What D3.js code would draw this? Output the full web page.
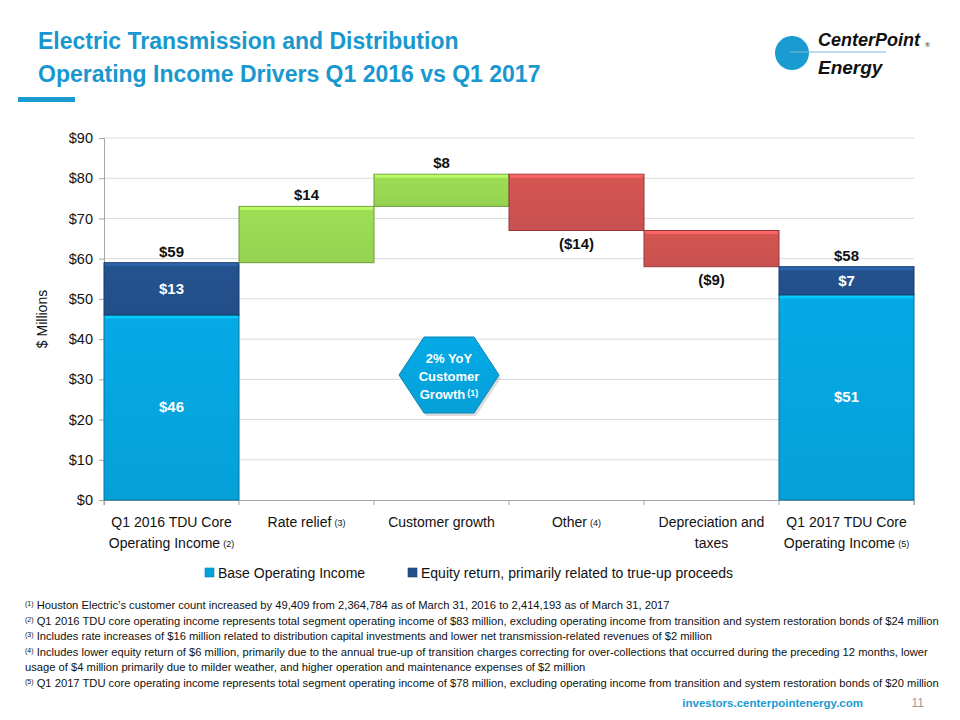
<!DOCTYPE html>
<html><head><meta charset="utf-8">
<script src="https://cdn.jsdelivr.net/npm/d3@7"></script>
<style>
body{margin:0;background:#fff;}
svg{display:block;}
text{font-family:"Liberation Sans Narrow","Open Sans",sans-serif;}
</style></head>
<body>
<script>
// ---- data ----
const categories = ["Q1 2016 TDU Core|Operating Income", "Rate relief", "Customer growth", "Other", "Depreciation and|taxes", "Q1 2017 TDU Core|Operating Income"];
const categoryNotes = ["(2)", "(3)", "", "(4)", "", "(5)"];
const baseValues = [46, null, null, null, null, 51];
const equityValues = [13, null, null, null, null, 7];
const deltaValues = [null, 14, 8, -14, -9, null];
const yTicks = [0, 10, 20, 30, 40, 50, 60, 70, 80, 90];
const legendLabels = ["Base Operating Income", "Equity return, primarily related to true-up proceeds"];
const footnotes = [
  ["(1)", " Houston Electric’s customer count increased by 49,409 from 2,364,784 as of March 31, 2016 to 2,414,193 as of March 31, 2017"],
  ["(2)", " Q1 2016 TDU core operating income represents total segment operating income of $83 million, excluding operating income from transition and system restoration bonds of $24 million"],
  ["(3)", " Includes rate increases of $16 million related to distribution capital investments and lower net transmission-related revenues of $2 million"],
  ["(4)", " Includes lower equity return of $6 million, primarily due to the annual true-up of transition charges correcting for over-collections that occurred during the preceding 12 months, lower"],
  ["", "usage of $4 million primarily due to milder weather, and higher operation and maintenance expenses of $2 million"],
  ["(5)", " Q1 2017 TDU core operating income represents total segment operating income of $78 million, excluding operating income from transition and system restoration bonds of $20 million"]
];

const W = 960, H = 720;
const svg = d3.select("body").append("svg").attr("width", W).attr("height", H);
const C = {base:"#05a3dc", equity:"#23508a", up:"#97d651", down:"#cc5250", title:"#1998cf", grid:"#d9d9d9"};

const defs = svg.append("defs");
function vgrad(id, c) {
  const g = defs.append("linearGradient").attr("id", id).attr("x1",0).attr("x2",0).attr("y1",0).attr("y2",1);
  g.append("stop").attr("offset","0%").attr("stop-color", d3.color(c).brighter(0.12));
  g.append("stop").attr("offset","100%").attr("stop-color", d3.color(c).darker(0.05));
}
vgrad("gBase", C.base); vgrad("gEq", C.equity); vgrad("gUp", C.up); vgrad("gDown", C.down);
const fill = {base:"url(#gBase)", equity:"url(#gEq)", up:"url(#gUp)", down:"url(#gDown)"};

const FN = "'Liberation Sans Narrow',sans-serif";

// ---- title ----
svg.append("text").attr("x", 38).attr("y", 49).attr("fill", C.title).attr("font-size", 23).attr("font-weight","bold")
  .style("font-family",FN).text("Electric Transmission and Distribution");
svg.append("text").attr("x", 38).attr("y", 82).attr("fill", C.title).attr("font-size", 23).attr("font-weight","bold")
  .style("font-family",FN).text("Operating Income Drivers Q1 2016 vs Q1 2017");
svg.append("rect").attr("x", 18).attr("y", 97).attr("width", 57).attr("height", 5).attr("fill", "#1a9bd1");

// logo
svg.append("circle").attr("cx", 792).attr("cy", 53).attr("r", 17).attr("fill", "#1a9bd1");
svg.append("line").attr("x1", 790).attr("x2", 886).attr("y1", 52).attr("y2", 52).attr("stroke", "#7fb8d8").attr("stroke-width", 1.2);
svg.append("text").attr("x", 818).attr("y", 46).attr("font-size", 18).attr("font-weight","bold").attr("font-style","italic")
  .attr("fill","#111").style("font-family",FN).text("CenterPoint");
svg.append("text").attr("x", 925).attr("y", 47).attr("font-size", 6).attr("fill","#111").text("®");
svg.append("text").attr("x", 818).attr("y", 74).attr("font-size", 19).attr("font-weight","bold").attr("font-style","italic")
  .attr("fill","#111").style("font-family",FN).text("Energy");

// ---- chart ----
const x = d3.scaleBand().domain(d3.range(categories.length)).range([104, 914]).padding(0);
const y = d3.scaleLinear().domain([0, 90]).range([500, 138]);

const g = svg.append("g");
g.selectAll(".grid").data(yTicks.slice(1)).join("line")
  .attr("x1", 104).attr("x2", 914).attr("y1", d => y(d)).attr("y2", d => y(d))
  .attr("stroke", C.grid).attr("stroke-width", 1);

const yAxis = g.append("g").attr("transform", "translate(104,0)")
  .call(d3.axisLeft(y).tickValues(yTicks).tickFormat(d => "$" + d).tickSize(5).tickPadding(6));
yAxis.select(".domain").attr("stroke", "#a6a6a6");
yAxis.selectAll(".tick line").attr("stroke", "#a6a6a6");
yAxis.selectAll("text").attr("font-size", 14.5).attr("fill", "#111").style("font-family",FN);

const xAxis = g.append("g").attr("transform", "translate(0,500)")
  .call(d3.axisBottom(x).tickSize(5).tickFormat(""));
xAxis.select(".domain").attr("stroke", "#a6a6a6");
xAxis.selectAll(".tick line").attr("stroke", "#a6a6a6").attr("transform", `translate(${-x.bandwidth()/2},0)`);
xAxis.append("line").attr("x1", 914).attr("x2", 914).attr("y1", 0).attr("y2", 5).attr("stroke", "#a6a6a6");

svg.append("text").attr("transform", "translate(47,319) rotate(-90)").attr("text-anchor","middle")
  .attr("font-size", 14).attr("fill","#111").style("font-family",FN).text("$ Millions");

// waterfall segments
const segs = [];
let running = 0;
categories.forEach((c, i) => {
  if (baseValues[i] != null) {
    segs.push({i, y0: 0, y1: baseValues[i], type: "base", label: "$" + baseValues[i]});
    segs.push({i, y0: baseValues[i], y1: baseValues[i] + equityValues[i], type: "equity", label: "$" + equityValues[i]});
    running = baseValues[i] + equityValues[i];
  } else {
    const d = deltaValues[i];
    segs.push({i, y0: running, y1: running + d, type: d >= 0 ? "up" : "down", delta: d});
    running += d;
  }
});

function bevel(sel) {
  sel.each(function(d) {
    const x0 = x(d.i), w = x.bandwidth();
    const top = y(Math.max(d.y0, d.y1)), bot = y(Math.min(d.y0, d.y1));
    const gg = d3.select(this);
    const col = d3.color(C[d.type]);
    gg.append("rect").attr("x", x0).attr("y", top).attr("width", w).attr("height", bot - top)
      .attr("fill", fill[d.type]).attr("stroke", col.darker(0.9)).attr("stroke-width", 1);
    gg.append("rect").attr("x", x0 + 1).attr("y", top + 0.5).attr("width", w - 2).attr("height", 3)
      .attr("fill", col.brighter(0.7)).attr("opacity", 0.85);
  });
}
g.selectAll(".seg").data(segs).join("g").attr("class","seg").call(bevel);

const inside = segs.filter(d => d.type === "base" || d.type === "equity");
g.selectAll(".inlab").data(inside).join("text")
  .attr("x", d => x(d.i) + x.bandwidth()/2).attr("y", d => y((d.y0 + d.y1)/2) + 5)
  .attr("text-anchor","middle").attr("font-size", 15).attr("font-weight","bold").attr("fill","#fff")
  .style("font-family",FN).text(d => d.label);

const totals = categories.map((c, i) => baseValues[i] != null ? {i, v: baseValues[i] + equityValues[i]} : null).filter(d => d);
g.selectAll(".tot").data(totals).join("text")
  .attr("x", d => x(d.i) + x.bandwidth()/2).attr("y", d => y(d.v) - 6)
  .attr("text-anchor","middle").attr("font-size", 15).attr("font-weight","bold").attr("fill","#111")
  .style("font-family",FN).text(d => "$" + d.v);

const deltas = segs.filter(d => d.type === "up" || d.type === "down");
g.selectAll(".dl").data(deltas).join("text")
  .attr("x", d => x(d.i) + x.bandwidth()/2)
  .attr("y", d => d.delta >= 0 ? y(d.y1) - 6 : y(d.y1) + 18)
  .attr("text-anchor","middle").attr("font-size", 15).attr("font-weight","bold").attr("fill","#111")
  .style("font-family",FN)
  .text(d => d.delta >= 0 ? "$" + d.delta : "($" + (-d.delta) + ")");

// category labels
categories.forEach((c, i) => {
  const lines = c.split("|");
  const cx = x(i) + x.bandwidth()/2;
  lines.forEach((ln, k) => {
    const t = svg.append("text").attr("x", cx).attr("y", 527 + k * 21).attr("text-anchor","middle")
      .attr("font-size", 14).attr("fill","#111").style("font-family",FN);
    t.append("tspan").text(ln);
    if (k === lines.length - 1 && categoryNotes[i]) {
      t.append("tspan").attr("font-size", 9).attr("dx", 3).attr("dy", -1).text(categoryNotes[i]);
    }
  });
});

// hexagon
const hx = 449, hy = 375, hw = 50, hh = 38;
const hex = [[hx - hw, hy], [hx - hw/2, hy - hh], [hx + hw/2, hy - hh], [hx + hw, hy], [hx + hw/2, hy + hh], [hx - hw/2, hy + hh]];
svg.append("path").attr("d", d3.line()(hex) + "Z").attr("fill", "#9a9a9a").attr("opacity", 0.35)
  .attr("transform", "translate(2,3)");
svg.append("path").attr("d", d3.line()(hex) + "Z").attr("fill", "url(#gBase)").attr("stroke", "#0a86b5").attr("stroke-width", 1);
["2% YoY", "Customer", "Growth"].forEach((s, k) => {
  const t = svg.append("text").attr("x", hx).attr("y", hy - 12 + k * 18).attr("text-anchor","middle")
    .attr("font-size", 13).attr("font-weight","bold").attr("fill","#fff").style("font-family",FN);
  t.append("tspan").text(s);
  if (k === 2) t.append("tspan").attr("font-size", 9).attr("dx", 2).attr("dy", -3).text("(1)");
});

// legend
const legend = [{label: legendLabels[0], c: C.base, x: 205}, {label: legendLabels[1], c: C.equity, x: 408}];
legend.forEach(l => {
  svg.append("rect").attr("x", l.x).attr("y", 568).attr("width", 9).attr("height", 9).attr("fill", l.c)
    .attr("stroke", d3.color(l.c).darker(0.6)).attr("stroke-width", 0.6);
  svg.append("text").attr("x", l.x + 13).attr("y", 578).attr("font-size", 14).attr("fill","#111")
    .style("font-family",FN).text(l.label);
});

// footnotes
footnotes.forEach((f, k) => {
  const t = svg.append("text").attr("x", 25).attr("y", 609 + k * 15.6).attr("font-size", 11.2).attr("fill","#111")
    .style("font-family",FN);
  if (f[0]) t.append("tspan").attr("font-size", 7).attr("dy", -3).text(f[0]);
  t.append("tspan").attr("dy", f[0] ? 3 : 0).text(f[1]);
});

// footer
svg.append("text").attr("x", 863).attr("y", 707).attr("text-anchor","end").attr("font-size", 11.5).attr("font-weight","bold")
  .attr("fill", "#1a9bd1").style("font-family",FN).text("investors.centerpointenergy.com");
svg.append("text").attr("x", 924).attr("y", 707).attr("text-anchor","end").attr("font-size", 12)
  .attr("fill", "#999").style("font-family",FN).text("11");
</script>
</body></html>
